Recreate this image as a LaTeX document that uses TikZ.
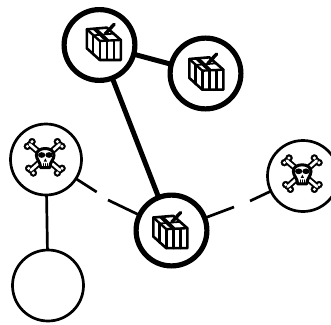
\documentclass[tikz,border=0pt]{standalone}
\tikzset{
  x=1pt,y=-1pt,
  heavy/.style={circle,draw=black,fill=white,line width=5.2pt,minimum size=70.8pt,inner sep=0pt,outer sep=0pt},
  light/.style={circle,draw=black,fill=white,line width=2.7pt,minimum size=71pt,inner sep=0pt,outer sep=0pt},
  thicklink/.style={line width=5pt,black},
  thinlink/.style={line width=2.7pt,black},
  giftbox/.pic={
    \begin{scope}[scale=0.3333,line join=round,line cap=round,black]
      \draw[line width=2.6pt,fill=white] (-51,-45)--(-51,12)--(-12,47)--(51,47)--(51,-13)--(9,-50)--cycle;
      \draw[line width=2.4pt] (-51,-45)--(-12,-10)--(51,-13);
      \draw[line width=2.4pt] (-12,-10)--(-12,47);
      \draw[line width=2.4pt] (10,-11)--(10,47) (31,-12)--(31,47);
      \draw[line width=2.4pt] (-32,-28)--(-32,30);
      \fill (-36,-47)--(-20,-48)--(18,-12)--(2,-11)--cycle;
      \draw[line width=1.8pt] (-30,-27)--(29,-32);
      \draw[line width=3.4pt] (5,-32)--(31,-60);
    \end{scope}
  },
  skullicon/.pic={
    \begin{scope}[scale=0.3333,line cap=round,line join=round]
      \foreach \p/\q/\r/\s in {-45/-38/46/40,45/-38/-42/40}{
        \draw[black,line width=6.4pt] (\p,\q)--(\r,\s);
      }
      \foreach \p/\q in {-52/-32,-38/-46,52/-32,38/-46,-48/34,-34/48,52/34,38/48}{
        \filldraw[fill=black,draw=black] (\p,\q) circle[radius=10.5];
      }
      \foreach \p/\q/\r/\s in {-45/-38/46/40,45/-38/-42/40}{
        \draw[white,line width=2.6pt] (\p,\q)--(\r,\s);
      }
      \foreach \p/\q in {-52/-32,-38/-46,52/-32,38/-46,-48/34,-34/48,52/34,38/48}{
        \fill[white] (\p,\q) circle[radius=5];
      }
      \filldraw[fill=white,draw=black,line width=3pt] (-25,-6) .. controls (-25,-32) and (28,-32) .. (28,-6) .. controls (28,8) and (16,14) .. (15,32) -- (-12,32) .. controls (-13,14) and (-25,8) .. (-25,-6) -- cycle;
      \fill[black] (-9,-6) ellipse[x radius=11,y radius=8.5];
      \fill[black] (13,-6) ellipse[x radius=11,y radius=8.5];
      \fill[black] (2,4)--(7,14)--(-3,14)--cycle;
      \draw[black,line width=1.4pt] (-4,20)--(-4,32) (2,20)--(2,32) (8,20)--(8,32);
    \end{scope}
  }
}
\begin{document}
\begin{tikzpicture}
\useasboundingbox (0,0) rectangle (331,324);
\clip (0,0) rectangle (331,324);
\node[heavy] (a) at (99.5,45) {};
\node[heavy] (b) at (205.5,73.5) {};
\node[heavy] (e) at (171.5,230.5) {};
\node[light] (c) at (46,159.5) {};
\node[light] (d) at (48,285.5) {};
\node[light] (f) at (303,176) {};
\coordinate (g1) at (96.7,192);
\coordinate (g2) at (108,200);
\coordinate (g3) at (234,207);
\coordinate (g4) at (250,201);
\draw[thicklink] (a)--(b);
\draw[thicklink] (a)--(e);
\draw[thinlink] (c)--(d);
\draw[thinlink] (c)--(g1);
\draw[thinlink] (g2)--(e);
\draw[thinlink] (e)--(g3);
\draw[thinlink] (g4)--(f);
\pic at (103.8,44.3) {giftbox};
\pic at (206.3,74) {giftbox};
\pic at (170.3,232.5) {giftbox};
\pic at (44.7,157) {skullicon};
\pic at (301.7,173.3) {skullicon};
\end{tikzpicture}
\end{document}
